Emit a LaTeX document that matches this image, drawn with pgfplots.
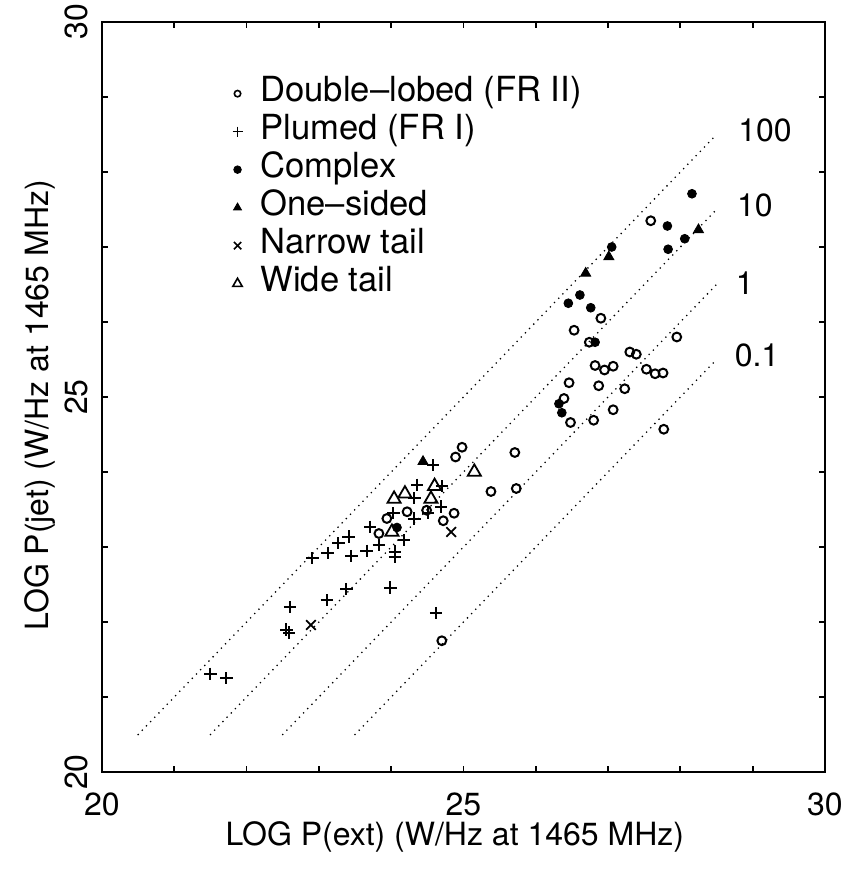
\documentclass[border=0pt]{standalone}
\usepackage{fontspec}
\setmainfont{TeX Gyre Heros}
\usepackage{pgfplots}
\pgfplotsset{compat=1.18}
\newcommand\ff{\fontsize{16}{19}\selectfont}
\newcommand\lf{\fontsize{17.3}{20}\selectfont}

\begin{document}
\begin{tikzpicture}
\begin{axis}[
  name=ax,
  scale only axis,
  width=361.5pt, height=375pt,
  xmin=20, xmax=30, ymin=20, ymax=30,
  xtick={20,25,30}, ytick={20,25,30},
  minor xtick={21,22,23,24,26,27,28,29},
  minor ytick={21,22,23,24,26,27,28,29},
  tick align=inside,
  major tick length=3pt, minor tick length=3pt,
  axis line style={line width=1pt},
  every tick/.style={black, line width=0.9pt},
  /pgf/number format/assume math mode=true,
  tick label style={font=\ff},
  xticklabel style={anchor=north, inner sep=0pt, yshift=-10pt},
  yticklabel style={rotate=90, anchor=south, inner sep=0pt},
  yticklabel shift=7pt,
  xlabel={LOG P(ext) (W/Hz at 1465 MHz)},
  ylabel={LOG P(jet) (W/Hz at 1465 MHz)},
  label style={font=\ff},
  xlabel style={at={(axis description cs:0.488,-0.087)}, anchor=center},
  ylabel style={at={(axis description cs:-0.0858,0.489)}, anchor=center},
  legend cell align=left,
  legend image code/.code={\draw[#1] plot coordinates {(0pt,0pt)};},
  legend style={draw=none, fill=none, font=\lf, at={(0.180,0.929)}, anchor=north west,
    inner sep=0pt, row sep=1pt, nodes={inner sep=1pt, text height=12pt, text depth=4pt},
    /tikz/every odd column/.append style={column sep=8pt}},
  clip=false,
]
% reference lines
\addplot[black, line width=0.9pt, dash pattern=on 0pt off 3pt, line cap=round, forget plot] coordinates {(20.5,20.5)(28.5,28.5)};
\addplot[black, line width=0.9pt, dash pattern=on 0pt off 3pt, line cap=round, forget plot] coordinates {(21.5,20.5)(28.5,27.5)};
\addplot[black, line width=0.9pt, dash pattern=on 0pt off 3pt, line cap=round, forget plot] coordinates {(22.5,20.5)(28.5,26.5)};
\addplot[black, line width=0.9pt, dash pattern=on 0pt off 3pt, line cap=round, forget plot] coordinates {(23.5,20.5)(28.5,25.5)};

% double-lobed
\addplot[only marks, mark=o, mark size=2.2pt, line width=1pt, black,
  legend image post style={mark size=1.6pt, line width=0.8pt}] coordinates {
  (24.98,24.33)(24.89,24.20)(25.38,23.74)(25.71,24.26)(25.73,23.78)
  (24.49,23.49)(24.22,23.47)(23.94,23.38)(24.87,23.45)(24.72,23.35)
  (23.83,23.18)(24.70,21.75)
  (27.59,27.35)(26.90,26.05)(26.53,25.89)(26.74,25.73)(27.95,25.80)
  (27.30,25.60)(27.39,25.57)(26.82,25.42)(26.95,25.36)(27.07,25.41)
  (27.53,25.37)(27.65,25.31)(27.76,25.32)(26.46,25.19)(26.87,25.15)
  (27.23,25.11)(26.39,24.98)(27.07,24.83)(26.48,24.66)(26.80,24.69)
  (27.77,24.57)
};
\addlegendentry{Double--lobed (FR II)}
% plumed
\addplot[only marks, mark=+, mark size=3.1pt, line width=1pt, black,
  legend image post style={mark size=2.5pt, line width=0.8pt}] coordinates {
  (21.50,21.31)(21.72,21.25)(22.60,22.20)(22.55,21.90)(22.59,21.86)
  (23.11,22.29)(23.38,22.44)(23.99,22.46)(24.62,22.12)(22.91,22.85)
  (23.12,22.92)(23.27,23.05)(23.41,23.14)(23.45,22.88)(23.66,22.95)
  (23.71,23.27)(23.83,23.03)(24.05,22.94)(24.05,22.87)(24.18,23.09)
  (24.03,23.45)(24.32,23.38)(24.51,23.45)(24.69,23.54)(24.32,23.65)
  (24.36,23.83)(24.70,23.81)(24.58,24.09)
};
\addlegendentry{Plumed (FR I)}
% complex
\addplot[only marks, mark=*, mark size=2.2pt, black, mark options={fill=black},
  legend image post style={mark size=1.9pt}] coordinates {
  (24.08,23.26)(28.16,27.71)(27.82,27.28)(28.06,27.11)(27.83,26.97)
  (27.05,27.00)(26.61,26.36)(26.45,26.25)(26.76,26.19)(26.82,25.73)
  (26.32,24.91)(26.36,24.79)
};
\addlegendentry{Complex}
% one-sided
\addplot[only marks, mark=triangle*, mark size=2.9pt, black, mark options={fill=black},
  legend image post style={mark size=2.3pt}] coordinates {
  (24.44,24.14)(28.25,27.23)(27.01,26.87)(26.69,26.65)
};
\addlegendentry{One--sided}
% narrow tail
\addplot[only marks, mark=x, mark size=3.4pt, line width=0.9pt, black,
  legend image post style={mark size=2.6pt, line width=0.8pt}] coordinates {
  (22.89,21.96)(24.83,23.20)
};
\addlegendentry{Narrow tail}
% wide tail
\addplot[only marks, mark=triangle, mark size=3.8pt, line width=0.9pt, black,
  legend image post style={mark size=2.7pt, line width=0.8pt}] coordinates {
  (25.15,24.00)(24.60,23.81)(24.04,23.64)(24.19,23.71)(24.55,23.64)(24.01,23.20)
};
\addlegendentry{Wide tail}

\node[font=\ff] at (axis cs:29.17,28.56) {100};
\node[font=\ff] at (axis cs:29.03,27.56) {10};
\node[font=\ff] at (axis cs:28.89,26.52) {1};
\node[font=\ff] at (axis cs:29.06,25.56) {0.1};
\end{axis}
\pgfresetboundingbox
\path ([shift={(-51pt,-48.5pt)}]ax.south west) rectangle ([shift={(11pt,11pt)}]ax.north east);
\end{tikzpicture}
\end{document}
